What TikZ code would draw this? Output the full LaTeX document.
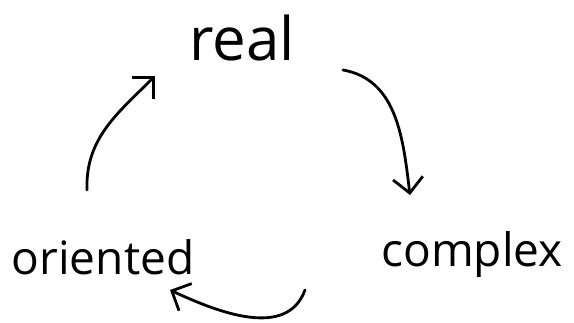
\documentclass[tikz,border=0pt]{standalone}
\usepackage{fontspec}
\setmainfont{Open Sans}
\usetikzlibrary{arrows.meta}
\begin{document}
\begin{tikzpicture}[x=1pt,y=1pt,
  lbl/.style={inner sep=0pt, font=\fontsize{46}{50}\selectfont},
  arr/.style={line width=2.8pt, line cap=round, line join=round,
    -{Straight Barb[length=15pt,width=30pt,line width=2.8pt]}}]
\useasboundingbox (0,0) rectangle (574,323);
\node[lbl, font=\fontsize{60}{64}\selectfont] (real) at (242,285) {real};
\node[lbl] (complex) at (472,68) {complex};
\node[lbl] (oriented) at (103,66) {oriented};
\draw[arr] ([shift={(101,-32)}]real.center) to[out=-10,in=97] ([shift={(-62,60)}]complex.center);
\draw[arr] ([shift={(-167,-35)}]complex.center) to[out=-110,in=-25] ([shift={(67,-33)}]oriented.center);
\draw[arr] ([shift={(-16,67)}]oriented.center) to[out=92,in=-135] ([shift={(-87,-38)}]real.center);
\end{tikzpicture}
\end{document}
